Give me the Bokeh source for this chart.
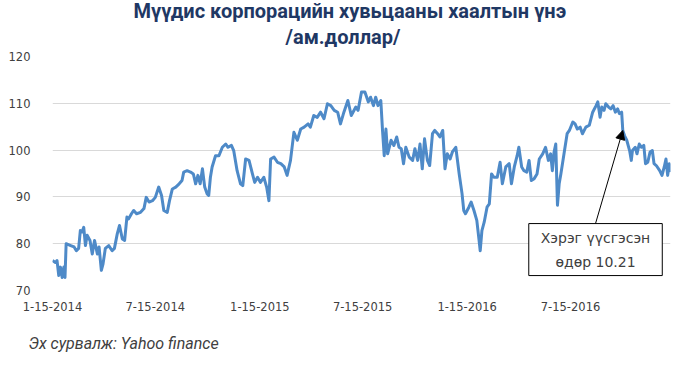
from bokeh.plotting import figure
from bokeh.models import Range1d, FixedTicker, Label, Arrow, NormalHead, Title
from bokeh.embed import file_html
from bokeh.resources import INLINE
import pandas as pd

# ---- data ----
start_date = "2014-01-15"
day_offset = [0, 5, 8, 11, 14, 17, 20, 22, 24, 32, 38, 42, 46, 49, 52, 55, 58, 61, 66, 70,
              74, 79, 82, 86, 89, 93, 99, 105, 109, 114, 118, 123, 127, 131, 134, 139, 143, 148, 155, 161,
              165, 170, 176, 181, 187, 192, 196, 202, 206, 211, 217, 223, 228, 231, 237, 243, 248, 252, 256, 260,
              264, 268, 272, 275, 278, 281, 287, 293, 299, 305, 309, 315,
              319, 325, 331, 335, 340, 346, 352, 356, 361, 366, 372, 377, 381, 384, 390, 396, 402, 408, 413, 419,
              425, 431, 437, 443, 450, 454, 460, 466, 472, 478, 484, 490, 496, 502, 507, 513, 520, 526, 534, 538,
              544, 550, 556, 560, 565, 569, 573, 578, 581, 584, 587, 590, 596, 601, 606, 610, 614, 618, 622, 628,
              634, 638, 643, 647, 651, 655, 660, 664, 669, 673, 678, 682, 687, 691, 695, 700, 704,
              710, 716, 721, 724, 727, 733, 737, 742, 747, 751, 753, 756, 760, 765, 769, 773, 777, 783, 788, 792,
              798, 804, 808, 813, 818, 821, 826, 830, 835, 839, 843, 848, 853, 857, 863, 868, 873, 877, 880, 883,
              886, 889, 892, 895, 901, 906, 910, 916, 920, 924, 929, 933, 939, 945, 951, 957, 960, 964, 967, 971,
              974, 979, 983, 987, 991, 995, 998, 1002, 1004, 1007, 1011, 1016, 1019, 1021, 1026, 1029, 1033, 1037,
              1041, 1044, 1048, 1052, 1056, 1059, 1063, 1069, 1073, 1077, 1080, 1083, 1086, 1088]
close_price = [76.4, 76.0, 76.4, 73.2, 75.0, 72.8, 75.0, 72.8, 80.0, 79.6, 79.3, 78.5, 79.0, 82.8, 82.5, 83.5, 79.6, 81.8, 80.7, 77.8,
               80.7, 77.8, 79.3, 74.3, 75.7, 79.0, 79.6, 78.5, 79.0, 82.1, 83.9, 81.0, 80.7, 85.7, 85.3, 86.4, 87.1, 86.4, 86.7, 87.5,
               89.9, 88.9, 89.2, 89.9, 92.1, 90.3, 87.1, 86.7, 89.2, 91.7, 92.1, 92.8, 93.5, 95.3, 95.6, 95.3, 94.9, 92.8, 94.6, 92.8,
               96.0, 92.1, 90.7, 90.3, 94.2, 96.4, 98.8, 98.8, 100.6, 101.3, 100.6, 101.0,
               99.9, 95.6, 92.8, 92.4, 98.1, 97.8, 94.9, 93.1, 94.2, 93.1, 94.2, 92.1, 89.2, 98.1, 98.5, 97.4, 97.1, 96.4, 94.6, 97.8,
               103.8, 102.1, 104.5, 104.9, 105.6, 104.9, 107.4, 107.0, 108.1, 106.7, 109.9, 109.5, 108.5, 108.1, 105.6, 108.1, 110.6, 107.4, 109.2, 108.5,
               112.4, 112.4, 110.3, 111.3, 109.5, 111.3, 109.5, 110.6, 104.2, 98.8, 104.5, 99.2, 102.1, 101.0, 102.8, 100.6, 100.3, 97.1, 100.6, 98.5,
               97.8, 100.3, 97.8, 101.3, 96.0, 102.4, 97.8, 96.7, 103.5, 104.2, 103.5, 102.8, 104.2, 96.0, 99.2, 98.1, 99.6,
               100.6, 94.9, 90.7, 87.1, 86.4, 87.8, 88.9, 87.1, 85.0, 80.7, 78.5, 82.8, 84.6, 87.8, 88.5, 94.9, 94.2, 94.2, 97.4, 92.8,
               96.4, 97.1, 92.8, 96.4, 98.8, 100.6, 96.4, 95.6, 95.3, 97.8, 93.5, 93.9, 94.9, 98.1, 99.2, 100.6, 97.8, 99.2, 95.6, 99.6,
               101.3, 88.2, 92.8, 94.9, 99.6, 103.5, 104.2, 106.0, 105.6, 104.5, 104.9, 103.5, 104.9, 105.3, 108.1, 109.5, 110.3, 107.0, 109.2, 108.5,
               109.9, 109.2, 108.8, 109.5, 108.1, 108.8, 107.8, 108.1, 104.2, 103.1, 102.1, 99.9, 97.8, 99.9, 100.6, 99.2, 101.3, 100.6,
               101.0, 97.1, 97.4, 99.6, 99.9, 97.1, 96.7, 95.6, 94.6, 96.4, 98.1, 94.6, 97.1, 95.3]

tick_dates = ["2014-01-15", "2014-07-15", "2015-01-15", "2015-07-15", "2016-01-15", "2016-07-15"]
tick_labels = ["1-15-2014", "7-15-2014", "1-15-2015", "7-15-2015", "1-15-2016", "7-15-2016"]
y_ticks = [70, 80, 90, 100, 110, 120]

event_day = 1004
event_price = 104.2
event_text = "Хэрэг үүсгэсэн\nөдөр 10.21"

title_line1 = "Мүүдис корпорацийн хувьцааны хаалтын үнэ"
title_line2 = "/ам.доллар/"
source_text = "Эх сурвалж: Yahoo finance"

# ---- derived ----
t0 = pd.Timestamp(start_date)
tick_pos = [int((pd.Timestamp(d) - t0).days) for d in tick_dates]

p = figure(width=693, height=372, output_backend="svg", toolbar_location=None,
           x_range=Range1d(0, 1088), y_range=Range1d(70, 120),
           min_border_left=52, min_border_right=23, min_border_top=56, min_border_bottom=82)
p.outline_line_color = None
p.background_fill_color = "white"
p.border_fill_color = "white"

p.line(day_offset, close_price, line_color="#4E8AC8", line_width=3, line_join="round")

# axes
p.xaxis.ticker = FixedTicker(ticks=tick_pos)
p.xaxis.major_label_overrides = {int(k): v for k, v in zip(tick_pos, tick_labels)}
p.yaxis.ticker = FixedTicker(ticks=y_ticks)
for ax in (p.xaxis, p.yaxis):
    ax.axis_line_color = None
    ax.major_tick_line_color = None
    ax.minor_tick_line_color = None
    ax.major_label_text_font = "DejaVu Sans"
    ax.major_label_text_font_size = "11.5px"
    ax.major_label_text_color = "#404040"
p.xaxis.major_label_standoff = 5
p.yaxis.major_label_standoff = 16

p.xgrid.grid_line_color = None
p.ygrid.grid_line_color = "#D9D9D9"
p.ygrid.grid_line_width = 1

# title (two lines, centred on the page) and source note
title_style = dict(align="left", text_font="Roboto", text_font_style="bold",
                   text_font_size="20px", text_color="#1F3864")
p.title = Title(text=title_line1, standoff=-15, offset=81, **title_style)
p.add_layout(Title(text=title_line2, standoff=15, offset=233, **title_style), "above")
p.add_layout(Title(text=source_text, align="left", offset=-24, text_font="Roboto",
                   text_font_style="italic", text_font_size="16px", text_color="#404040",
                   standoff=37), "below")

# annotation box + arrow
box_x, box_y = 956, 84.3
p.add_layout(Arrow(x_start=box_x, y_start=box_y, x_end=event_day, y_end=event_price,
                   line_color="black", line_width=1,
                   end=NormalHead(size=9, fill_color="black", line_color="black")))
p.add_layout(Label(x=box_x, y=box_y, text=event_text, anchor="top_center",
                   text_align="center", text_font="DejaVu Sans", text_font_size="14px",
                   text_color="#404040", text_line_height=1.5,
                   background_fill_color="white", border_line_color="black", border_line_width=1,
                   padding=(12, 6)))

open("out.html", "w").write(file_html(p, INLINE))
